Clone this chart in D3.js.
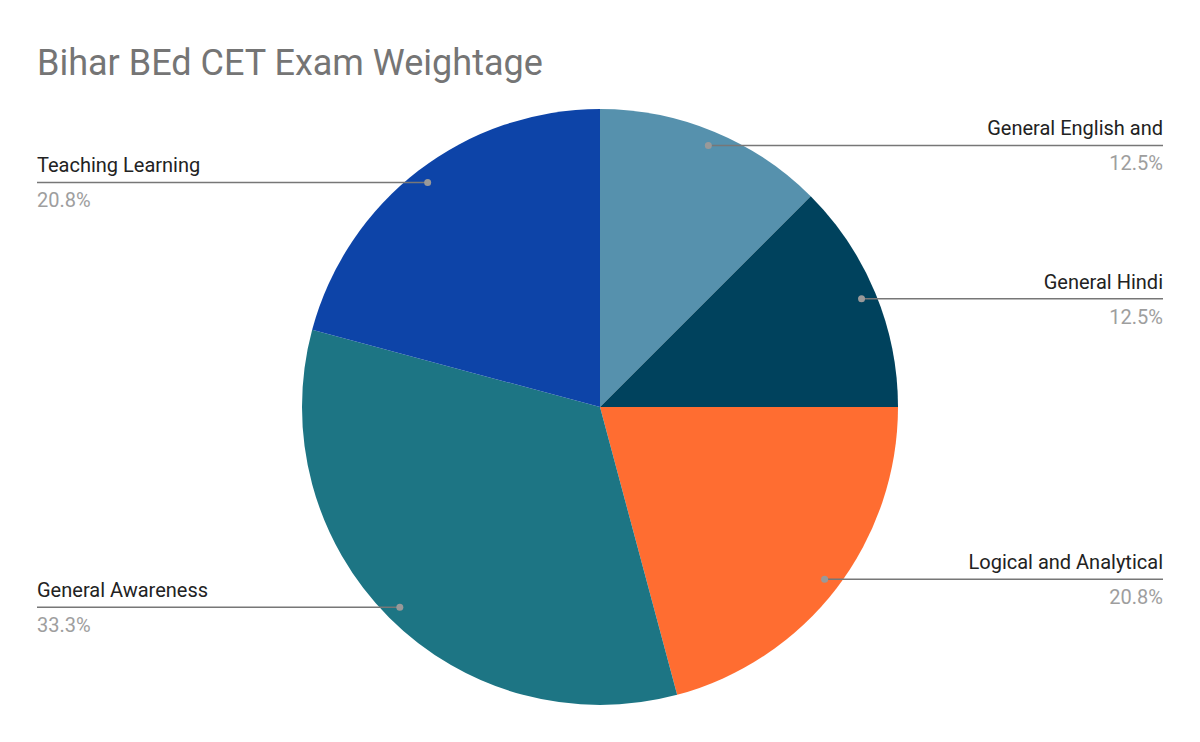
<!DOCTYPE html>
<html><head><meta charset="utf-8">
<script src="https://cdn.jsdelivr.net/npm/d3@7"></script>
<style>body{margin:0;background:#fff}svg{display:block}</style>
</head><body>
<script>
const categories = ['General English and', 'General Hindi', 'Logical and Analytical', 'General Awareness', 'Teaching Learning'];
const values = [15, 15, 25, 40, 25];
const colors = ['#5691ad', '#00425d', '#ff6d31', '#1d7584', '#0d44a8'];

const W = 1200, H = 742, cx = 600, cy = 407, R = 298;
const svg = d3.select('body').append('svg').attr('width', W).attr('height', H)
  .style('font-family', 'Roboto, Arial, sans-serif');

svg.append('text').attr('x', 37).attr('y', 75).attr('font-size', 36).attr('fill', '#757575')
  .text('Bihar BEd CET Exam Weightage');

const total = d3.sum(values);
const arcs = d3.pie().sort(null).value(d => d)(values);
const arc = d3.arc().innerRadius(0).outerRadius(R);
const g = svg.append('g').attr('transform', `translate(${cx},${cy})`);
g.selectAll('path').data(arcs).join('path')
  .attr('d', arc).attr('fill', (d, i) => colors[i]);

arcs.forEach((d, i) => {
  const a = (d.startAngle + d.endAngle) / 2;
  const px = cx + Math.sin(a) * R * 0.95, py = cy - Math.cos(a) * R * 0.95;
  const right = Math.sin(a) > 0;
  const ex = right ? 1163 : 37;
  svg.append('line').attr('x1', px).attr('y1', py).attr('x2', ex).attr('y2', py)
    .attr('stroke', '#777').attr('stroke-width', 1.5);
  svg.append('circle').attr('cx', px).attr('cy', py).attr('r', 3.5).attr('fill', '#999');
  const anchor = right ? 'end' : 'start';
  svg.append('text').attr('x', ex).attr('y', py - 10).attr('text-anchor', anchor)
    .attr('font-size', 20).attr('fill', '#222').text(categories[i]);
  svg.append('text').attr('x', ex).attr('y', py + 25).attr('text-anchor', anchor)
    .attr('font-size', 20).attr('fill', '#9e9e9e')
    .text((values[i] / total * 100).toFixed(1) + '%');
});
</script>
</body></html>
